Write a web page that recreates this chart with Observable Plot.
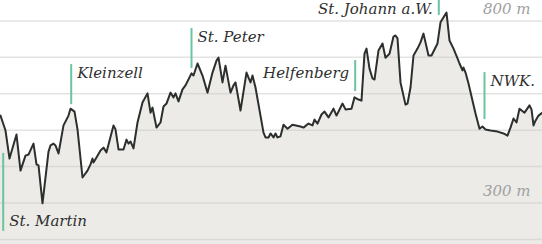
<!DOCTYPE html>
<html>
<head>
<meta charset="utf-8">
<script src="https://cdn.jsdelivr.net/npm/d3@7"></script>
<script src="https://cdn.jsdelivr.net/npm/@observablehq/plot@0.6"></script>
<style>
  html, body { margin: 0; padding: 0; background: #fff; }
  #chart svg { display: block; }
</style>
</head>
<body>
<div id="chart"></div>
<script>
// Distance along route (km) and elevation (m)
const km = [0, 0.5, 0.9, 1.6, 2.0, 2.5, 2.8, 3.3, 3.6, 3.8, 4.2, 4.8, 5.0, 5.3, 5.5, 5.8, 6.3, 6.8, 7.0, 7.4,
  7.7, 8.2, 8.7, 9.0, 9.2, 9.3, 9.7, 10.0, 10.3, 10.6, 11.3, 11.5, 11.8, 12.3, 12.6, 12.8, 13.0, 13.3, 13.7, 14.2,
  14.7, 15.0, 15.2, 15.6, 16.0, 16.3, 16.6, 17.0, 17.3, 17.5, 17.8, 18.2, 18.5, 19.1, 19.3, 19.7, 20.2, 20.7, 21.2, 21.6,
  21.8, 22.2, 22.5, 23.0, 23.3, 23.5, 24.0, 24.6, 24.8, 25.0, 25.2, 25.5, 26.3, 26.5, 26.8, 27.0, 27.3, 27.5, 27.7, 28.0,
  28.3, 28.7, 29.2, 30.0, 30.3, 30.8, 31.2, 31.4, 31.7, 32.1, 32.4, 32.8, 33.3, 33.6, 34.2, 34.5, 35.1, 35.4, 35.8, 36.1,
  36.4, 36.6, 36.9, 37.2, 37.4, 37.8, 38.2, 38.5, 38.9, 39.3, 39.5, 39.7, 40.0, 40.5, 40.7, 41.0, 41.3, 41.7, 42.0, 42.3,
  42.8, 43.1, 43.7, 44.0, 44.6, 44.9, 45.3, 45.7, 45.9, 46.2, 46.3, 46.5, 46.8, 47.2, 47.5, 47.9, 48.2, 48.5, 49.0, 49.7,
  50.3, 50.7, 51.0, 51.3, 51.6, 51.9, 52.4, 52.9, 53.1, 53.3, 53.5, 53.8, 54.2];
const elevation = [540, 499, 422, 488, 389, 430, 433, 463, 406, 403, 299, 441, 458, 463, 458, 436, 513, 540, 559, 551,
  502, 370, 389, 406, 422, 411, 430, 444, 452, 439, 513, 502, 447, 447, 474, 463, 469, 450, 521, 576,
  601, 548, 562, 507, 521, 565, 573, 603, 590, 601, 579, 612, 623, 656, 650, 683, 650, 603, 658, 691,
  699, 631, 677, 603, 623, 631, 554, 658, 644, 631, 650, 617, 493, 480, 480, 491, 480, 491, 480, 483,
  515, 504, 515, 510, 507, 518, 513, 529, 518, 543, 551, 535, 559, 540, 573, 557, 559, 590, 584, 581,
  710, 724, 669, 642, 639, 719, 738, 699, 710, 757, 760, 752, 631, 570, 573, 617, 705, 724, 741, 765,
  705, 705, 738, 796, 823, 746, 724, 697, 683, 664, 672, 658, 628, 581, 546, 504, 510, 502, 499, 496,
  491, 485, 507, 532, 521, 559, 548, 568, 557, 513, 526, 540, 548];

// Places along the route
const placeNames = ["St. Martin", "Kleinzell", "St. Peter", "Helfenberg", "St. Johann a.W.", "NWK."];
const placeKm = [0.27, 7.07, 19.1, 35.47, 43.83, 48.4];
const placeRuleTop = [436, 680, 779, 691, 856, 658];
const placeRuleBottom = [222, 570, 669, 606, 815, 529];
const placeLabelElev = [238, 642, 743, 642, 820, 620];
const placeSide = ["right", "right", "right", "left", "left", "right"];

// Grid and axis labels
const gridValues = [200, 300, 400, 500, 600, 700, 800];
const axisLabelValues = [800, 300];
const axisLabelTexts = ["800 m", "300 m"];

const profile = km.map((d, i) => ({km: d, elev: elevation[i]}));
const places = placeNames.map((name, i) => ({
  name, km: placeKm[i], top: placeRuleTop[i], bottom: placeRuleBottom[i],
  labelElev: placeLabelElev[i], side: placeSide[i]
}));
const axisLabels = axisLabelValues.map((v, i) => ({v, text: axisLabelTexts[i]}));

const yMin = 186, yMax = 856;
const font = "DejaVu Serif";

const chart = Plot.plot({
  width: 542,
  height: 244,
  margin: 0,
  x: {domain: [0, 54.2], axis: null},
  y: {domain: [yMin, yMax], axis: null},
  style: {background: "#fff", fontFamily: font},
  marks: [
    Plot.areaY(profile, {x: "km", y1: yMin, y2: "elev", fill: "#ecebe8", curve: "linear"}),
    Plot.ruleY(gridValues, {stroke: "#c8c8c8", strokeOpacity: 0.5, strokeWidth: 1.5}),
    Plot.lineY(profile, {x: "km", y: "elev", stroke: "#2b302d", strokeWidth: 2, strokeLinejoin: "round"}),
    Plot.ruleX(places, {x: "km", y1: "bottom", y2: "top", stroke: "#6cc39f", strokeWidth: 2}),
    Plot.text(places.filter(d => d.side === "right"), {
      x: "km", y: "labelElev", text: "name", textAnchor: "start", lineAnchor: "bottom",
      dx: 6, fontSize: 15, fontStyle: "italic", fill: "#2f2f2f", fontFamily: font
    }),
    Plot.text(places.filter(d => d.side === "left"), {
      x: "km", y: "labelElev", text: "name", textAnchor: "end", lineAnchor: "bottom",
      dx: -6, fontSize: 15, fontStyle: "italic", fill: "#2f2f2f", fontFamily: font
    }),
    Plot.text(axisLabels, {
      x: () => 53.0, y: "v", text: "text", textAnchor: "end", lineAnchor: "bottom",
      dy: -7, fontSize: 15, fontStyle: "italic", fill: "#a0a0a0", fontFamily: font
    })
  ]
});
document.getElementById("chart").appendChild(chart);
</script>
</body>
</html>
